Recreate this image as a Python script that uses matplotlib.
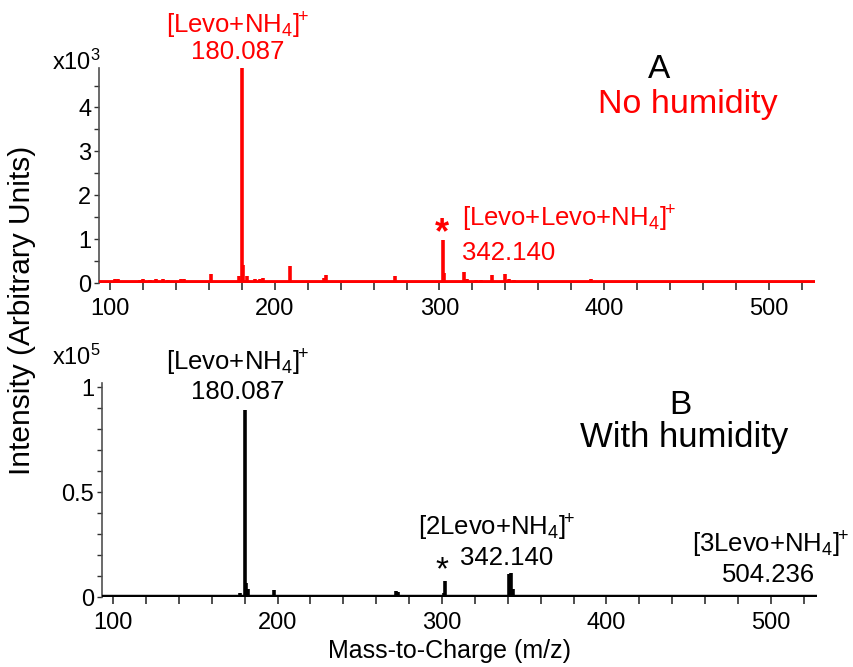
import matplotlib
matplotlib.use('Agg')
import matplotlib.pyplot as plt
from matplotlib.ticker import MultipleLocator, FuncFormatter

plt.rcParams['font.family'] = ['Liberation Sans', 'DejaVu Sans']
plt.rcParams['mathtext.fontset'] = 'custom'
plt.rcParams['mathtext.rm'] = 'Liberation Sans'
plt.rcParams['mathtext.it'] = 'Liberation Sans:italic'
plt.rcParams['mathtext.bf'] = 'Liberation Sans:bold'

# ── Data ──────────────────────────────────────────────────────
# A: no humidity, intensity x10^3
mz_a = [103, 105, 118, 120, 124, 128, 132, 135, 143, 145, 161, 178, 180, 181, 183,
        188, 191, 193, 209, 230, 231, 273, 302, 303, 315, 317, 322, 325, 332, 340,
        342, 345, 392]
int_a = [0.10, 0.08, 0.07, 0.10, 0.07, 0.08, 0.10, 0.07, 0.10, 0.10, 0.20, 0.15, 4.90,
         0.40, 0.15, 0.10, 0.08, 0.12, 0.38, 0.12, 0.18, 0.17, 0.98, 0.22, 0.25, 0.10,
         0.07, 0.07, 0.18, 0.20, 0.10, 0.07, 0.08]

# B: with humidity, intensity x10^5
mz_b = [120, 163, 177, 180, 181, 182, 198, 209, 272, 273, 301, 302, 324, 331, 334,
        341, 342, 343, 391, 462, 504]
int_b = [0.006, 0.006, 0.02, 0.89, 0.065, 0.04, 0.035, 0.008, 0.03, 0.025, 0.02, 0.075,
         0.008, 0.008, 0.01, 0.11, 0.115, 0.04, 0.008, 0.008, 0.01]

RED = '#FF0000'
W, H = 854, 667

def px_axes(l, r, b, t):
    return [l / W, 1 - b / H, (r - l) / W, (b - t) / H]

fig = plt.figure(figsize=(W / 100, H / 100), dpi=100)
ax1 = fig.add_axes(px_axes(99, 815, 283, 68))
ax2 = fig.add_axes(px_axes(102, 817, 597, 383))

def style(ax, ymax, ymajor, yminor, yfmt):
    ax.set_xlim(93.3, 528)
    ax.set_ylim(0, ymax)
    for s in ['top', 'right', 'bottom']:
        ax.spines[s].set_visible(False)
    ax.spines['left'].set_color('#505050')
    ax.spines['left'].set_linewidth(1.2)
    ax.xaxis.set_major_locator(MultipleLocator(100))
    ax.xaxis.set_minor_locator(MultipleLocator(20))
    ax.yaxis.set_major_locator(MultipleLocator(ymajor))
    ax.yaxis.set_minor_locator(MultipleLocator(yminor))
    ax.yaxis.set_major_formatter(FuncFormatter(yfmt))
    ax.tick_params(axis='x', which='both', direction='out', length=5, width=1.2,
                   color='#303030', labelsize=17, pad=5.5)
    ax.tick_params(axis='y', which='both', direction='out', length=3.5, width=1.0,
                   color='#303030', labelsize=17, pad=2)

style(ax1, 4.9, 1, 0.5, lambda v, _: f'{v:.0f}')
style(ax2, 1.02, 0.5, 0.1, lambda v, _: f'{v:g}')

# spectra
ax1.vlines(mz_a, 0, int_a, color=RED, lw=2.6)
ax1.axhline(0, color=RED, lw=4.2, zorder=3)
ax2.vlines(mz_b, 0, int_b, color='black', lw=2.6)
ax2.axhline(0, color='black', lw=3.2, zorder=3)

SUP = r'$^{\!\!+}$'

# ── Panel A labels ────────────────────────────────────────────
kw = dict(ha='center', va='center', fontsize=18.5, clip_on=False)
ax1.text(177.5, 5.86, r'[Levo+NH$_4$]' + SUP, color=RED, **kw)
ax1.text(177.8, 5.26, '180.087', color=RED, **kw)
ax1.text(301.7, 1.12, '*', color=RED, ha='center', va='center', fontsize=26,
         fontweight='bold', clip_on=False)
ax1.text(313.9, 1.46, r'[Levo+Levo+NH$_4$]' + SUP, color=RED, ha='left', va='center',
         fontsize=18.5, clip_on=False)
ax1.text(313.9, 0.69, '342.140', color=RED, ha='left', va='center', fontsize=18.5,
         clip_on=False)
fig.text(659 / W, 1 - 70 / H, 'A', ha='center', va='center', fontsize=24)
fig.text(688 / W, 1 - 105 / H, 'No humidity', ha='center', va='center', fontsize=24.5,
         color=RED)
fig.text(52 / W, 1 - 62 / H, r'x10$^3$', ha='left', va='center', fontsize=17)

# ── Panel B labels ────────────────────────────────────────────
ax2.text(175.8, 1.118, r'[Levo+NH$_4$]' + SUP, **kw)
ax2.text(175.8, 0.976, '180.087', **kw)
ax2.text(300, 0.125, '*', ha='center', va='center', fontsize=24, clip_on=False)
ax2.text(333.3, 0.33, r'[2Levo+NH$_4$]' + SUP, **kw)
ax2.text(339.4, 0.186, '342.140', **kw)
ax2.text(547.9, 0.25, r'[3Levo+NH$_4$]' + SUP, ha='right', va='center', fontsize=18.5,
         clip_on=False)
ax2.text(498.2, 0.105, '504.236', **kw)
fig.text(680 / W, 1 - 405 / H, 'B', ha='center', va='center', fontsize=24)
fig.text(684 / W, 1 - 437 / H, 'With humidity', ha='center', va='center', fontsize=25)
fig.text(52 / W, 1 - 357 / H, r'x10$^5$', ha='left', va='center', fontsize=17)

# axis titles
fig.text(22 / W, 1 - 310 / H, 'Intensity (Arbitrary Units)', rotation=90,
         ha='center', va='center', fontsize=21.5)
fig.text(450 / W, 1 - 651 / H, 'Mass-to-Charge (m/z)', ha='center', va='center',
         fontsize=18)

fig.savefig('out.png', dpi=100)
